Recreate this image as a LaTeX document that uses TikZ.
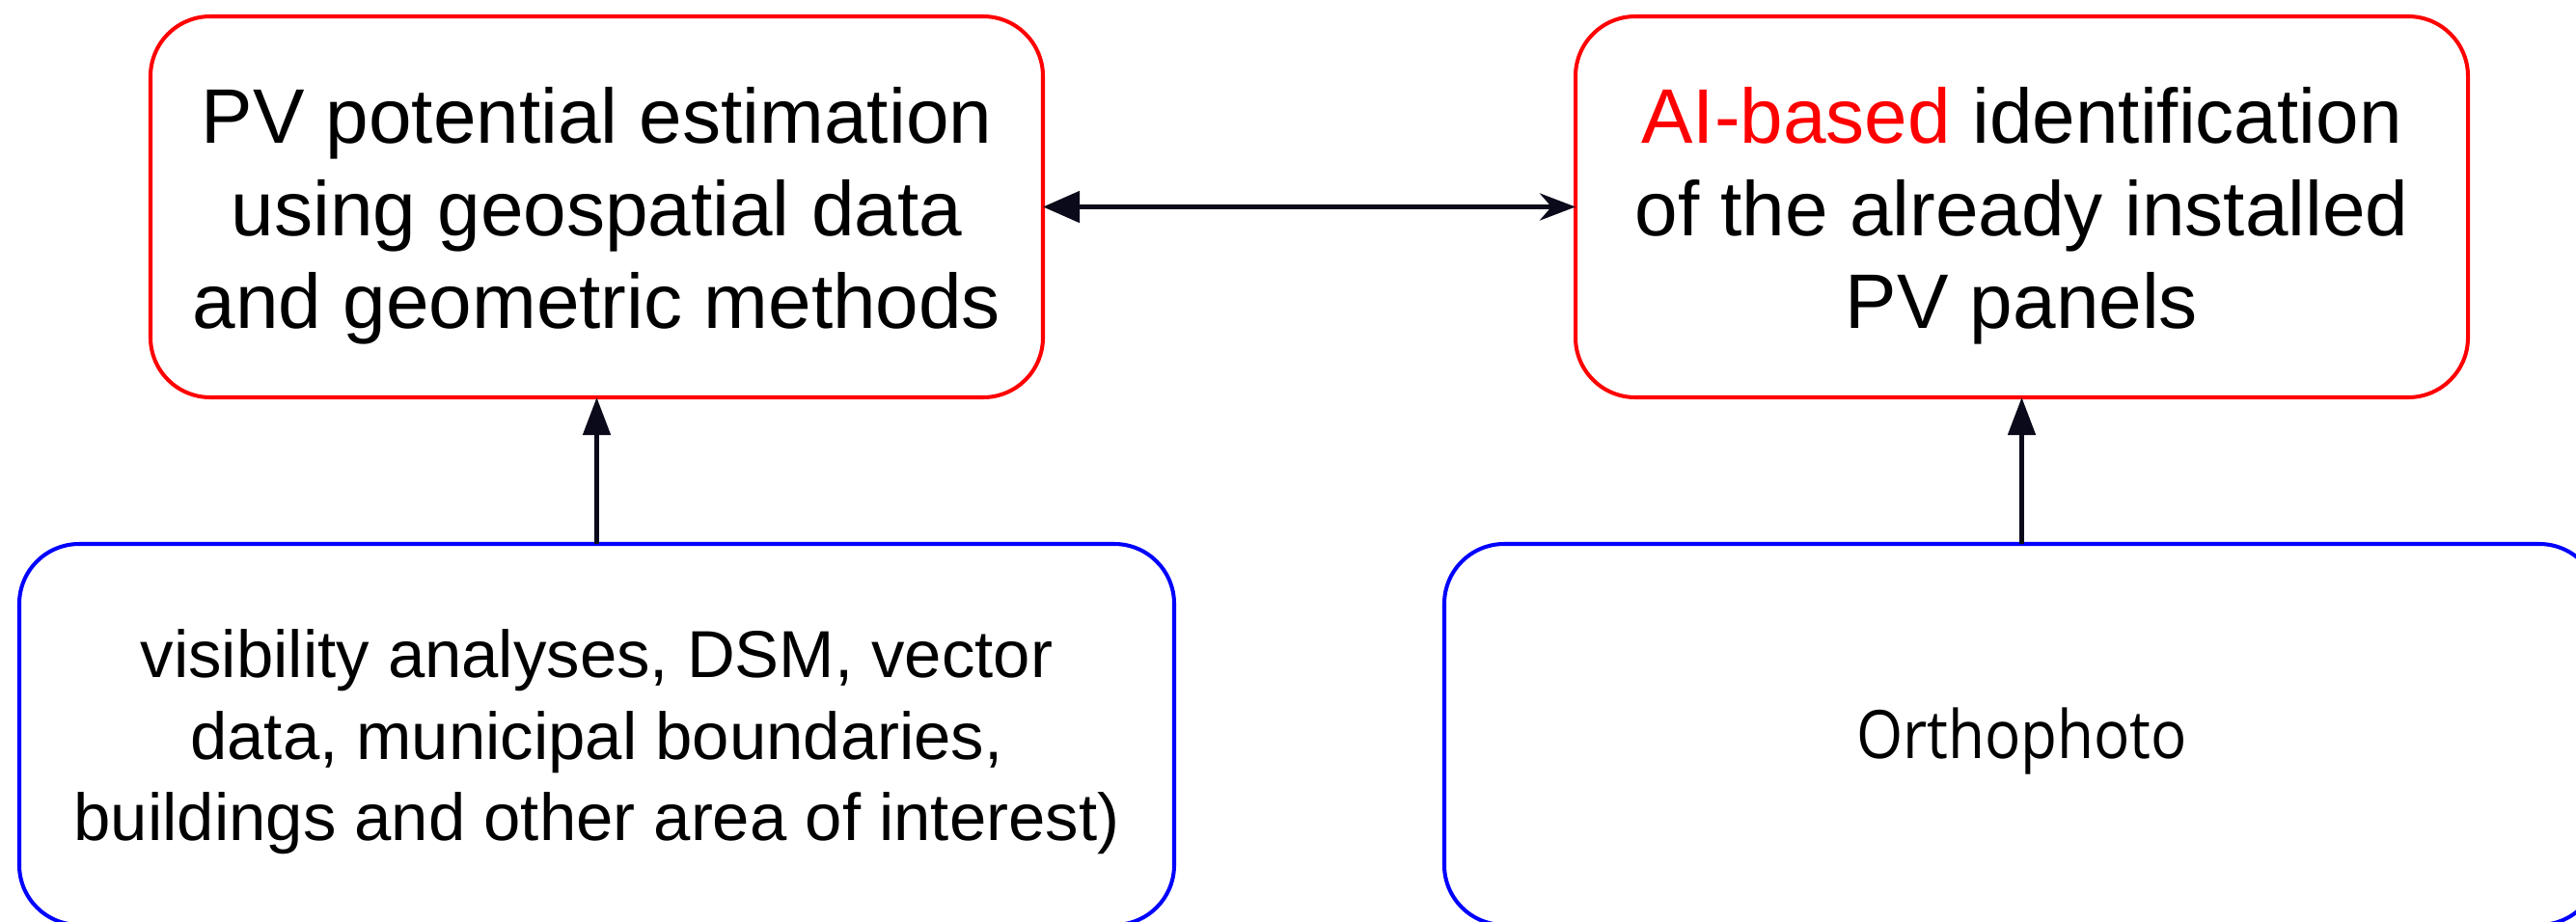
\documentclass[tikz,border=0pt]{standalone}
\usepackage{fontspec}
\usepackage{graphicx}
\setmainfont{Liberation Sans}
\newfontfamily\orthofont{Open Sans}
\usetikzlibrary{positioning,arrows.meta}

\definecolor{boxred}{RGB}{255,0,0}
\definecolor{boxblue}{RGB}{0,0,255}
\definecolor{linkink}{RGB}{10,10,26}

% struts so that the text block sits like a line-height box
\newcommand{\firstline}{\rule{0pt}{0.96em}}
\newcommand{\lastline}{\rule[-0.21em]{0pt}{0pt}}

\tikzset{
  method/.style={draw=boxred, line width=1.15pt, rounded corners=0.62cm,
    minimum width=9.25cm, minimum height=3.95cm, outer sep=0pt,
    align=center, font=\fontsize{22.8}{27.4}\selectfont},
  source/.style={draw=boxblue, line width=1.15pt, rounded corners=0.62cm,
    minimum width=11.97cm, minimum height=3.95cm, outer sep=0pt,
    align=center, font=\fontsize{19.6}{24}\selectfont},
  link/.style={draw=linkink, line width=1.4pt},
}

\begin{document}
\begin{tikzpicture}
  \useasboundingbox (0,0) rectangle (26.7,-9.55);

  \node[method] (pvest) at (6.185,-2.145)
    {\firstline PV potential estimation\\using geospatial data\\and geometric methods\lastline};
  \node[method] (aiid) [right=5.52cm of pvest]
    {\firstline\textcolor{boxred}{AI-based} identification\\of the already installed\\PV panels\lastline};
  \node[source] (geodata) [below=1.52cm of pvest]
    {\firstline visibility analyses, DSM, vector\\data, municipal boundaries,\\buildings and other area of interest)\lastline};
  \node[source] (ortho) [below=1.52cm of aiid]
    {\rule{0pt}{0.66cm}\scalebox{1}[1.12]{\orthofont\fontsize{17.6}{21}\selectfont Orthophoto}};

  % links between the boxes
  \draw[link, {Triangle[length=0.38cm,width=0.32cm]}-{Stealth[length=0.37cm,width=0.28cm,inset=0.12cm]}]
    (pvest) -- (aiid);
  \draw[link, -{Triangle[length=0.39cm,width=0.28cm]}] (geodata) -- (pvest);
  \draw[link, -{Triangle[length=0.39cm,width=0.28cm]}] (ortho) -- (aiid);
\end{tikzpicture}
\end{document}
